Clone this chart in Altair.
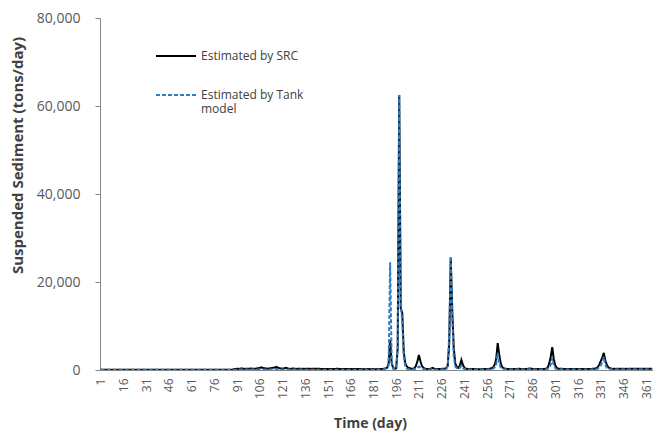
import altair as alt
import pandas as pd

# Days of the year (category axis of the original)
days = list(range(1, 366))

# Estimated by SRC (tons/day), 15 days per row
src = [
    40, 40, 40, 40, 40, 40, 40, 40, 60, 40, 40, 40, 40, 40, 40,            # 1-15
    40, 40, 40, 40, 40, 40, 40, 40, 40, 40, 40, 40, 40, 40, 40,            # 16-30
    40, 40, 40, 40, 40, 40, 40, 40, 40, 40, 40, 40, 40, 40, 40,            # 31-45
    40, 40, 40, 40, 40, 40, 40, 40, 40, 40, 40, 40, 40, 40, 40,            # 46-60
    40, 40, 40, 40, 40, 40, 40, 40, 40, 40, 40, 40, 40, 40, 40,            # 61-75
    40, 40, 40, 40, 40, 40, 40, 40, 40, 40, 40, 60, 120, 200, 250,         # 76-90
    300, 250, 300, 350, 300, 250, 300, 280, 300, 350, 300, 280, 300, 350, 400,   # 91-105
    500, 600, 450, 400, 350, 300, 350, 400, 450, 500, 600, 700, 500, 400, 350,   # 106-120
    300, 350, 500, 400, 300, 250, 300, 350, 300, 250, 300, 280, 300, 250, 300,   # 121-135
    250, 300, 280, 300, 250, 300, 280, 300, 250, 300, 250, 200, 250, 220, 200,   # 136-150
    200, 220, 250, 200, 220, 250, 300, 250, 200, 220, 200, 250, 220, 200, 200,   # 151-165
    250, 200, 220, 200, 250, 200, 220, 200, 150, 200, 150, 200, 200, 150, 200,   # 166-180
    200, 150, 200, 180, 200, 200, 250, 300, 350, 500, 1500, 6800, 1500, 500, 300,  # 181-195
    400, 5000, 62500, 14000, 13000, 4000, 1500, 800, 500, 400, 300, 300, 400, 900, 2000,  # 196-210
    3400, 2000, 900, 500, 300, 250, 200, 200, 300, 500, 300, 200, 200, 200, 250,  # 211-225
    250, 300, 300, 400, 1000, 6000, 25500, 13600, 5000, 1500, 700, 500, 1000, 2300, 1200,  # 226-240
    500, 300, 250, 200, 200, 200, 200, 200, 200, 180, 180, 200, 200, 200, 250,   # 241-255
    250, 250, 300, 400, 600, 1200, 2500, 6100, 3500, 1500, 600, 400, 300, 250, 250,  # 256-270
    250, 250, 200, 200, 200, 250, 300, 250, 200, 200, 200, 200, 300, 350, 300,   # 271-285
    250, 200, 200, 200, 200, 250, 200, 200, 250, 300, 500, 1500, 3000, 5200, 2500,  # 286-300
    1000, 500, 300, 250, 300, 250, 200, 200, 200, 250, 200, 200, 200, 200, 200,  # 301-315
    200, 200, 200, 200, 200, 200, 200, 200, 200, 250, 300, 300, 400, 600, 1200,  # 316-330
    2000, 2800, 3900, 2200, 1200, 600, 400, 300, 250, 300, 250, 300, 250, 300, 250,  # 331-345
    300, 250, 300, 250, 300, 250, 300, 250, 300, 250, 300, 250, 300, 250, 300,   # 346-360
    250, 300, 250, 300, 250,                                                     # 361-365
]

# Estimated by Tank model (tons/day)
tank = [
    30, 30, 30, 30, 30, 30, 30, 30, 30, 30, 30, 30, 30, 30, 30,            # 1-15
    30, 30, 30, 30, 30, 30, 30, 30, 30, 30, 30, 30, 30, 30, 30,            # 16-30
    30, 30, 30, 30, 30, 30, 30, 30, 30, 30, 30, 30, 30, 30, 30,            # 31-45
    30, 30, 30, 30, 30, 30, 30, 30, 30, 30, 30, 30, 30, 30, 30,            # 46-60
    30, 30, 30, 30, 30, 30, 30, 30, 30, 30, 30, 30, 30, 30, 30,            # 61-75
    30, 30, 30, 30, 30, 30, 30, 30, 30, 30, 30, 30, 50, 60, 80,            # 76-90
    100, 100, 100, 100, 100, 100, 100, 100, 100, 100, 100, 100, 100, 100, 100,   # 91-105
    150, 200, 150, 120, 100, 100, 100, 120, 150, 150, 200, 200, 150, 120, 100,   # 106-120
    100, 100, 100, 100, 100, 100, 100, 100, 100, 100, 100, 100, 100, 100, 100,   # 121-135
    80, 80, 80, 80, 80, 80, 80, 80, 80, 80, 80, 80, 80, 80, 80,            # 136-150
    80, 80, 80, 80, 80, 80, 80, 80, 80, 80, 80, 80, 80, 80, 80,            # 151-165
    80, 80, 80, 80, 80, 80, 80, 80, 80, 80, 80, 80, 80, 80, 80,            # 166-180
    80, 80, 80, 80, 80, 80, 100, 150, 300, 500, 1000, 24500, 2000, 300, 150,     # 181-195
    400, 5000, 62500, 15000, 11000, 3000, 800, 300, 200, 150, 120, 100, 150, 300, 500,  # 196-210
    800, 500, 300, 200, 150, 120, 100, 100, 120, 200, 150, 100, 100, 100, 120,   # 211-225
    120, 150, 150, 200, 800, 8000, 25800, 12000, 3000, 800, 400, 300, 500, 1000, 500,  # 226-240
    200, 150, 120, 100, 100, 100, 100, 100, 100, 100, 100, 100, 100, 100, 120,   # 241-255
    120, 120, 150, 200, 300, 600, 1200, 3900, 1500, 600, 300, 200, 150, 120, 120,  # 256-270
    120, 120, 100, 100, 100, 120, 150, 120, 100, 100, 100, 100, 150, 150, 150,   # 271-285
    120, 100, 100, 100, 100, 120, 100, 100, 120, 150, 250, 600, 1200, 2700, 1000,  # 286-300
    400, 200, 150, 120, 150, 120, 100, 100, 100, 120, 100, 100, 100, 100, 100,   # 301-315
    100, 100, 100, 100, 100, 100, 100, 100, 100, 120, 150, 150, 200, 300, 600,   # 316-330
    1000, 1800, 3000, 1200, 500, 250, 200, 150, 120, 150, 120, 150, 120, 150, 120,  # 331-345
    150, 120, 150, 120, 150, 120, 150, 120, 150, 120, 150, 120, 150, 120, 150,   # 346-360
    120, 150, 120, 150, 120,                                                     # 361-365
]

series_names = ["Estimated by SRC", "Estimated by Tank model"]
x_tick_values = list(range(1, 366, 15))
y_tick_values = [0, 20000, 40000, 60000, 80000]

assert len(src) == 365 and len(tank) == 365

df = pd.DataFrame({
    "day": days * 2,
    "value": src + tank,
    "series": [series_names[0]] * 365 + [series_names[1]] * 365,
})

FONT = "Open Sans"
NBSP = "\u00a0"

legend = alt.Legend(
    title=None,
    orient="none",
    legendX=55,
    legendY=17,
    symbolType="stroke",
    symbolSize=1600,
    symbolStrokeWidth=2,
    labelFont=FONT,
    labelFontSize=12,
    labelColor="#404040",
    labelBaseline="middle",
    labelOffset=4,
    labelLimit=300,
    rowPadding=12,
    padding=0,
    labelExpr="datum.label == 'Estimated by Tank model' ? ['Estimated by Tank', '" + NBSP + "', 'model'] : datum.label",
)

chart = alt.Chart(df).mark_line(strokeWidth=2, clip=True).encode(
    x=alt.X(
        "day:Q",
        scale=alt.Scale(domain=[0.5, 365.5], nice=False, zero=False),
        axis=alt.Axis(
            values=x_tick_values,
            title="Time (day)",
            labelAngle=270,
            labelAlign="right",
            labelBaseline="middle",
            labelPadding=8,
            ticks=False,
            domainColor="#868686",
            labelFont=FONT,
            labelFontSize=12,
            labelColor="#595959",
            labelOverlap=False,
            titleFont=FONT,
            titleFontSize=14,
            titleFontWeight="bold",
            titleColor="#404040",
            titleX=270,
            titleY=53,
            titleBaseline="middle",
            grid=False,
        ),
    ),
    y=alt.Y(
        "value:Q",
        scale=alt.Scale(domain=[0, 80000], nice=False),
        axis=alt.Axis(
            values=y_tick_values,
            format=",.0f",
            title="Suspended Sediment (tons/day)",
            tickSize=5,
            tickColor="#868686",
            domainColor="#868686",
            labelPadding=15,
            labelFont=FONT,
            labelFontSize=14,
            labelColor="#595959",
            titleFont=FONT,
            titleFontSize=15,
            titleFontWeight="bold",
            titleColor="#404040",
            titleX=-83,
            titleY=137,
            titleBaseline="middle",
            grid=False,
        ),
    ),
    color=alt.Color(
        "series:N",
        scale=alt.Scale(domain=series_names, range=["#000000", "#2f7cc2"]),
        legend=legend,
    ),
    strokeDash=alt.StrokeDash(
        "series:N",
        scale=alt.Scale(domain=series_names, range=[[1, 0], [4, 2]]),
        legend=legend,
    ),
).properties(
    width=553,
    height=352,
    autosize=alt.AutoSizeParams(type="none"),
    padding={"left": 100, "top": 18, "right": 0, "bottom": 68},
    background="white",
).configure_view(stroke=None)

chart.save("out.html", embed_options={"renderer": "svg", "actions": False})
